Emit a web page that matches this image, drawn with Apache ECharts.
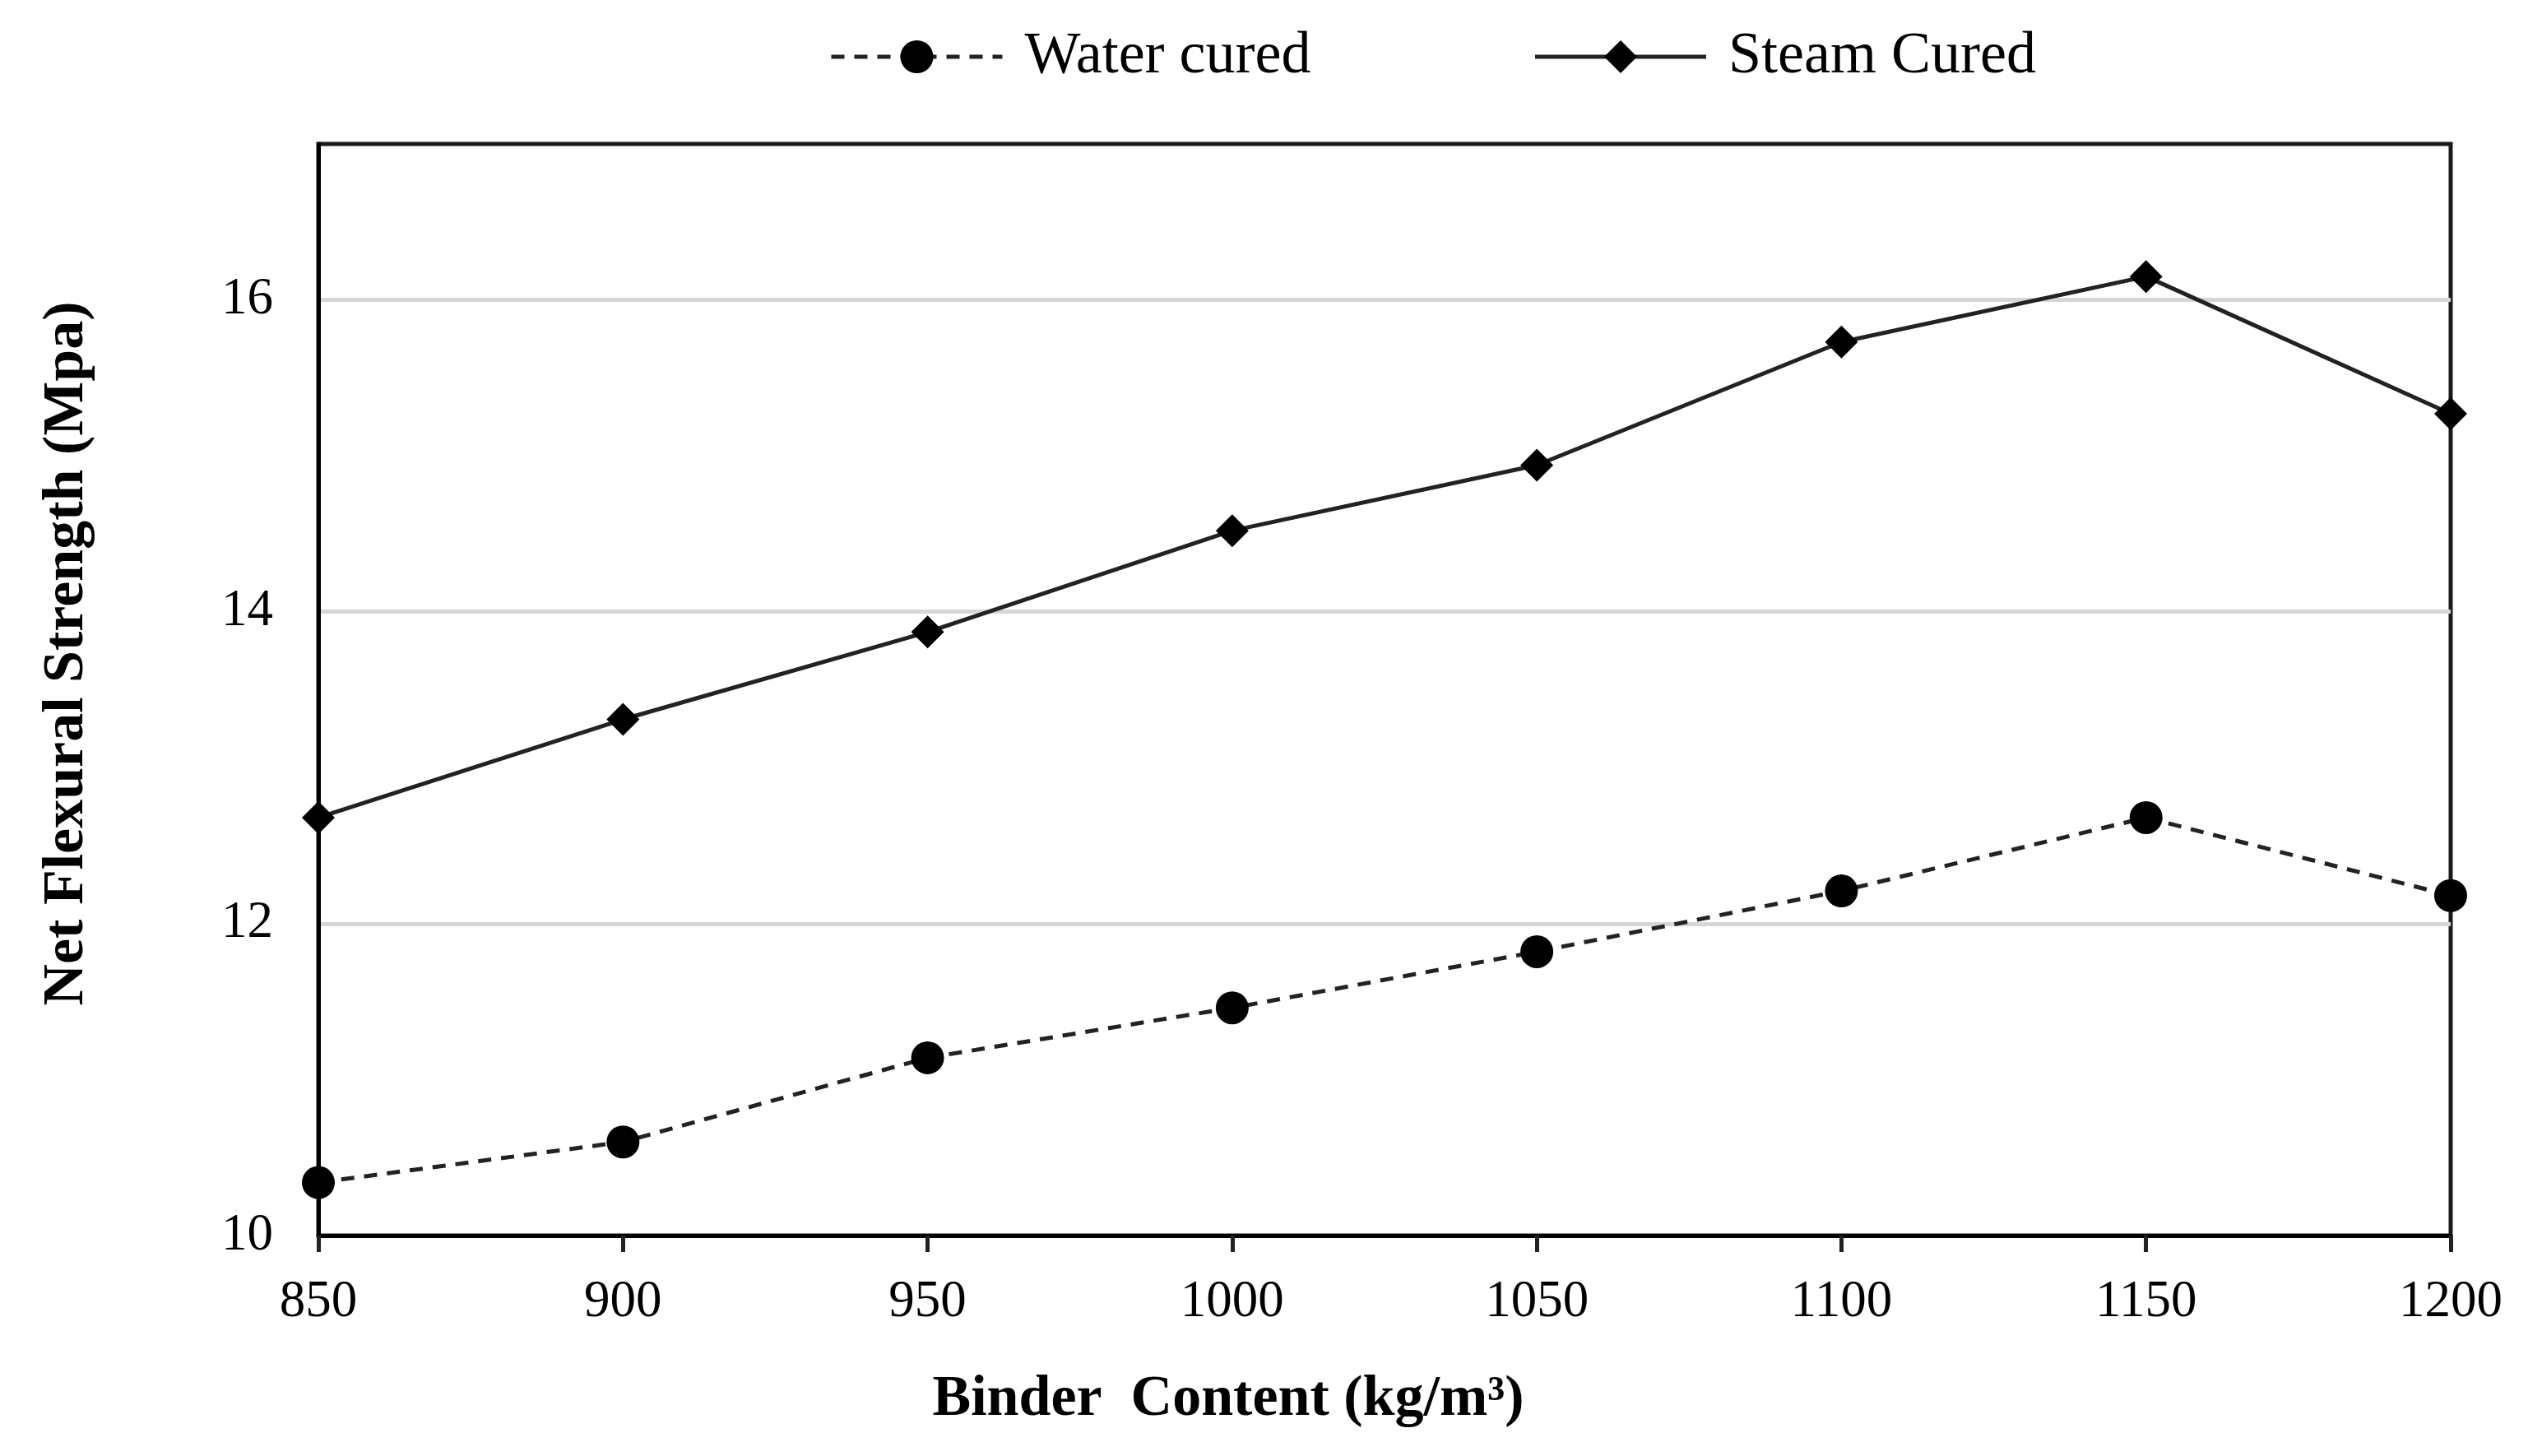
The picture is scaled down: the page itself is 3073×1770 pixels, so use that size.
<!DOCTYPE html>
<html>
<head>
<meta charset="utf-8">
<script src="https://cdn.jsdelivr.net/npm/echarts@6/dist/echarts.min.js"></script>
<style>
html,body{margin:0;padding:0;background:#fff;}
#chart{width:3073px;height:1770px;}
</style>
</head>
<body>
<div id="chart"></div>
<script>
const binderContent = [850, 900, 950, 1000, 1050, 1100, 1150, 1200];
const waterCured = [10.34, 10.60, 11.14, 11.46, 11.82, 12.21, 12.68, 12.18];
const steamCured = [12.68, 13.31, 13.87, 14.52, 14.94, 15.73, 16.15, 15.27];
const seriesNames = ['Water cured', 'Steam Cured'];

const FONT = '"Liberation Serif", "DejaVu Serif", serif';
const pairs = (ys) => binderContent.map((x, i) => [x, ys[i]]);

const chart = echarts.init(document.getElementById('chart'));
chart.setOption({
  animation: false,
  backgroundColor: '#ffffff',
  textStyle: { fontFamily: FONT, color: '#000' },
  legend: {
    left: 1003,
    top: 28,
    itemWidth: 208,
    itemHeight: 50,
    itemGap: 270,
    lineStyle: { width: 5 },
    textStyle: { fontFamily: FONT, fontSize: 72, color: '#000', padding: [0, 0, 0, 22] },
    data: seriesNames
  },
  grid: {
    left: 387, right: 94, top: 175, bottom: 268,
    show: true, borderColor: '#1a1a1a', borderWidth: 5, containLabel: false
  },
  xAxis: {
    type: 'value',
    min: 850, max: 1200, interval: 50,
    name: 'Binder  Content (kg/m³)',
    nameLocation: 'middle',
    nameGap: 165,
    nameTextStyle: { fontFamily: FONT, fontSize: 70, fontWeight: 'bold', color: '#000', padding: [0, 380, 0, 0] },
    axisLine: { show: true, lineStyle: { color: '#000', width: 5 } },
    axisTick: { show: true, length: 20, inside: false, lineStyle: { color: '#222', width: 5 } },
    axisLabel: { fontFamily: FONT, fontSize: 63, color: '#000', margin: 50, formatter: (v) => String(v) },
    splitLine: { show: false }
  },
  yAxis: {
    type: 'value',
    min: 10, max: 17, interval: 2,
    name: 'Net Flexural Strength (Mpa)',
    nameLocation: 'middle',
    nameGap: 270,
    nameRotate: 90,
    nameTextStyle: { fontFamily: FONT, fontSize: 70, fontWeight: 'bold', color: '#000', padding: [0, 0, 0, 88] },
    axisLine: { show: true, lineStyle: { color: '#000', width: 5 } },
    axisTick: { show: false },
    axisLabel: { fontFamily: FONT, fontSize: 63, color: '#000', margin: 55, showMaxLabel: false, formatter: (v) => String(v) },
    splitLine: { show: true, showMaxLine: false, showMinLine: false, lineStyle: { color: '#d6d6d6', width: 5 } }
  },
  series: [
    {
      name: seriesNames[0],
      type: 'line',
      data: pairs(waterCured),
      symbol: 'circle',
      symbolSize: 40,
      itemStyle: { color: '#000' },
      lineStyle: { color: '#222', width: 5, type: [16, 12] },
      z: 3
    },
    {
      name: seriesNames[1],
      type: 'line',
      data: pairs(steamCured),
      symbol: 'diamond',
      symbolSize: 40,
      itemStyle: { color: '#000' },
      lineStyle: { color: '#222', width: 5, type: 'solid' },
      z: 4
    }
  ]
});
</script>
</body>
</html>
